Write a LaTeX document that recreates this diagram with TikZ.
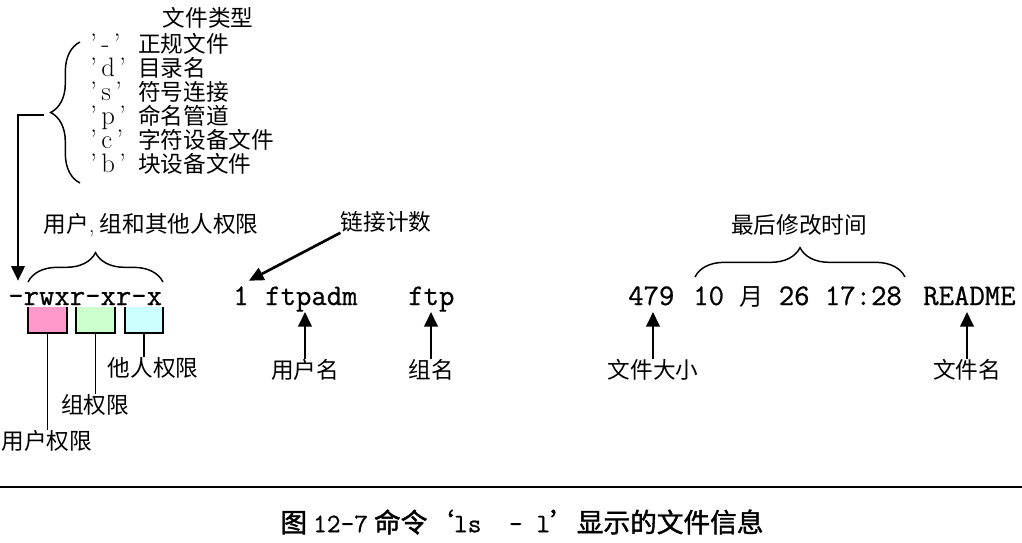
\documentclass[tikz,border=0pt]{standalone}
\usepackage{fontspec}
\usepackage{tikz}
\usetikzlibrary{calc, arrows.meta, decorations.pathreplacing}
\setmonofont{Latin Modern Mono}[FakeBold=0.8]
\newfontfamily\cjk{Noto Sans CJK SC}
\newfontfamily\cjkbf[FakeBold=1.5]{Noto Sans CJK SC}
\definecolor{upink}{HTML}{FF99CC}
\definecolor{ugreen}{HTML}{CCFFCC}
\definecolor{ucyan}{HTML}{CCFFFF}
\tikzset{
  lbl/.style={font=\cjk\fontsize{17}{20}\selectfont, inner sep=0pt},
  mono/.style={font=\ttfamily\fontsize{22.4}{26}\selectfont, inner sep=0pt,
    anchor=base west, text height=18pt, text depth=5pt},
  arr/.style={line width=2pt, -{Triangle[length=11pt,width=10pt]}},
  brc/.style={line width=1.1pt, decorate, decoration={brace, amplitude=22pt}},
  permbox/.style={minimum width=28.5pt, minimum height=19.5pt, inner sep=0pt}
}

\begin{document}
\begin{tikzpicture}[x=0.75pt, y=-0.75pt]
      \useasboundingbox (0,0) rectangle (1022,543);

      % 1. ls -l 的一行输出
      \node[mono] (perm) at (8,305) {-rwxr-xr-x};
      \node[mono] (links) at (233,305) {1};
      \node[mono] (owner) at (265,305) {ftpadm};
      \node[mono] (group) at (408,305) {ftp};
      \node[mono] (size) at (628,305) {479};
      \node[mono] (date) at (693,305) {10 {\cjk\fontsize{18}{20}\selectfont 月} 26 17:28};
      \node[mono] (fname) at (923,305) {README};

      % 2. 文件类型
      \node[lbl] (typettl) at (208,18) {文件类型};
      \foreach \c/\t [count=\i] in {-/正规文件, d/目录名, s/符号连接, p/命名管道, c/字符设备文件, b/块设备文件}
        \node[lbl, anchor=west] (type\i) at (90,20+24*\i)
          {\makebox[36pt][l]{\rmfamily\fontsize{20}{20}\selectfont\smash{'\,\c\,'}}\t};
      \draw[brc] (80,183) -- (80,42);
      \coordinate (typetip) at (44,115);
      \draw[arr] (typetip) -| ([xshift=7.5pt]perm.north west);

      % 3. 权限
      \node[lbl] (permttl) at (151,225) {用户{\rmfamily ,} 组和其他人权限};
      \draw[brc] (28,282) -- (163,282);
      \foreach \name/\cx/\col in {ubox/47.5/upink, gbox/95.5/ugreen, obox/144/ucyan} {
        \node[permbox, fill=\col] (\name) at (\cx,320) {};
        \draw[line width=1.4pt] (\name.north west) -- (\name.south west)
          -- (\name.south east) -- (\name.north east);
      }
      \node[lbl] (uperm) at (47,441) {用户权限};
      \node[lbl] (gperm) at (95,405) {组权限};
      \node[lbl] (operm) at (153,368) {他人权限};
      \draw[line width=1.4pt] (ubox.south) -- (ubox.south |- uperm.north);
      \draw[line width=1.4pt] (gbox.south) -- (gbox.south |- gperm.north);
      \draw[line width=1.4pt] (obox.south) -- (obox.south |- operm.north);

      % 4. 链接计数, 用户名, 组名
      \node[lbl] (linklbl) at (386,222) {链接计数};
      \draw[arr] (linklbl.south west) -- (links.north east);
      \node[lbl] (ownlbl) at (305,370) {用户名};
      \draw[arr] (ownlbl.north) -- (ownlbl.north |- owner.south);
      \node[lbl] (grplbl) at (431,370) {组名};
      \draw[arr] (grplbl.north) -- (grplbl.north |- group.south);

      % 5. 文件大小, 修改时间, 文件名
      \node[lbl] (sizelbl) at (653,370) {文件大小};
      \draw[arr] (sizelbl.north) -- (sizelbl.north |- size.south);
      \node[lbl] (timettl) at (799,225) {最后修改时间};
      \draw[brc] (695,277) -- (905,277);
      \node[lbl] (namelbl) at (967,370) {文件名};
      \draw[arr] (namelbl.north) -- (namelbl.north |- fname.south);

      % 6. 图题
      \draw[line width=1.5pt] (0,487) -- (1022,487);
      \node[font=\cjkbf\fontsize{20}{22}\selectfont, inner sep=0pt] (caption) at (522,522)
        {图 {\ttfamily\fontsize{20}{22}\selectfont 12-7} 命令‘{\ttfamily\fontsize{20}{22}\selectfont ls~~-~l}’显示的文件信息};
    \end{tikzpicture}
\end{document}
